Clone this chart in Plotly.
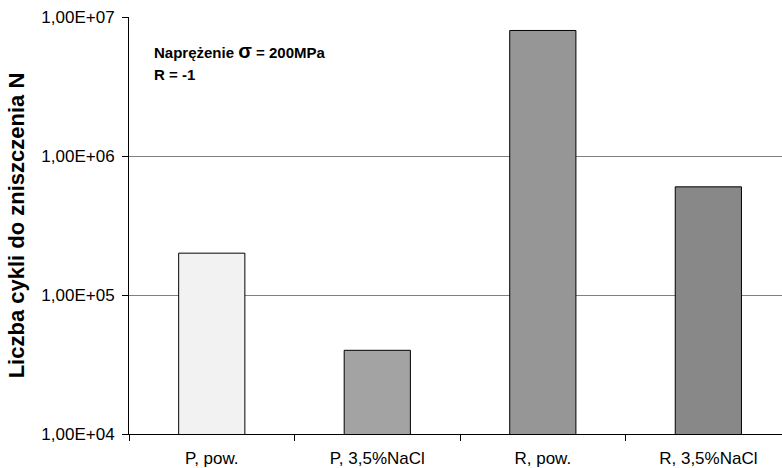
import plotly.graph_objects as go

# Fatigue life under cyclic loading, by specimen and environment
categories = ["P, pow.", "P, 3,5%NaCl", "R, pow.", "R, 3,5%NaCl"]
cycles = [2.0e5, 4.0e4, 8.0e6, 6.0e5]
bar_colors = ["#f2f2f2", "#a3a3a3", "#969696", "#888888"]

y_tickvals = [1e4, 1e5, 1e6, 1e7]
y_ticktext = ["1,00E+04", "1,00E+05", "1,00E+06", "1,00E+07"]

FONT = "Arial, Liberation Sans, sans-serif"

fig = go.Figure(
    go.Bar(
        x=categories,
        y=cycles,
        width=0.4,
        marker=dict(color=bar_colors, line=dict(color="#000000", width=1)),
    )
)

fig.update_layout(
    width=782,
    height=468,
    margin=dict(l=129, r=0, t=17, b=34),
    paper_bgcolor="#ffffff",
    plot_bgcolor="#ffffff",
    font=dict(family=FONT, size=17, color="#000000"),
    showlegend=False,
    bargap=0.6,
)

fig.update_xaxes(
    type="category",
    range=[-0.5, 3.445],
    showline=True,
    linecolor="#000000",
    linewidth=1,
    ticks="outside",
    tickson="boundaries",
    ticklen=6,
    tickcolor="#000000",
    showgrid=False,
    ticklabelstandoff=9,
    tickfont=dict(family=FONT, size=17),
)

fig.update_yaxes(
    type="log",
    range=[4, 7],
    tickvals=y_tickvals,
    ticktext=y_ticktext,
    showline=True,
    linecolor="#000000",
    linewidth=1,
    ticks="outside",
    ticklen=6,
    tickcolor="#000000",
    showgrid=True,
    gridcolor="#808080",
    gridwidth=1,
    zeroline=False,
    ticklabelstandoff=4,
    tickfont=dict(family=FONT, size=17),
    title=dict(
        text="<b>Liczba cykli do zniszczenia N</b>",
        font=dict(family=FONT, size=22),
        standoff=10,
    ),
)

# top gridline at the upper end of the log range
fig.add_shape(
    type="line", xref="paper", yref="y",
    x0=0, x1=1, y0=7, y1=7,
    line=dict(color="#808080", width=1),
    layer="below",
)

fig.add_annotation(
    xref="paper", yref="paper",
    x=(152 - 129) / 653, y=(434 - 51) / 417,
    xanchor="left", yanchor="middle",
    showarrow=False, align="left",
    text="<b>Naprężenie <span style='font-size:20px'>σ</span> = 200MPa</b>",
    font=dict(family=FONT, size=15),
)
fig.add_annotation(
    xref="paper", yref="paper",
    x=(152 - 129) / 653, y=(434 - 74) / 417,
    xanchor="left", yanchor="middle",
    showarrow=False, align="left",
    text="<b>R = -1</b>",
    font=dict(family=FONT, size=15),
)

fig.write_html("out.html")
